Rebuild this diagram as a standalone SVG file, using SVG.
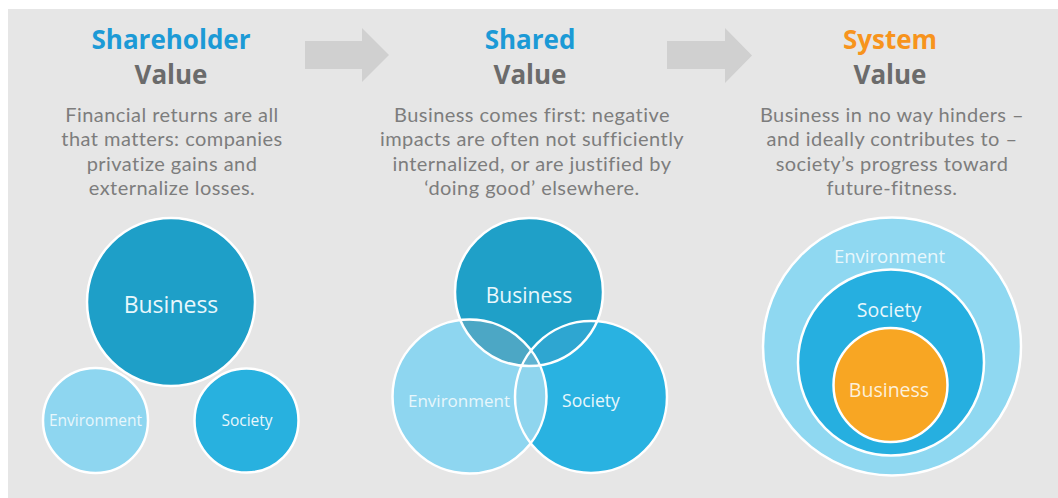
<svg xmlns="http://www.w3.org/2000/svg" width="1058" height="498" viewBox="0 0 1058 498">
<style>
text{font-family:"Open Sans","Liberation Sans",sans-serif;text-anchor:middle}
.t{font-size:26px;font-weight:bold}
.blue{fill:#1c9ad6}
.orange{fill:#f7941d}
.gray{fill:#6b6b6b}
.body{font-family:Lato,"Open Sans",sans-serif;font-size:20px;fill:#7d7d7d;letter-spacing:0.45px}
.lbl{fill:#e8f7fc}
.ring{fill:none;stroke:#ffffff;stroke-width:2.5}
.arrow{fill:#d0d0d0}
</style>
<defs>
<clipPath id="cB2"><circle cx="529" cy="292" r="74"/></clipPath>
<clipPath id="cE2"><circle cx="469.5" cy="396.5" r="77"/></clipPath>
<clipPath id="cS2"><circle cx="591" cy="397" r="76"/></clipPath>
</defs>
<rect x="0" y="0" width="1058" height="498" fill="#ffffff"/>
<rect x="8" y="9" width="1050" height="489" fill="#e6e6e6"/>

<g id="connectors">
<polygon class="arrow" points="305,41 362,41 362,28 389,55 362,82 362,69 305,69"/>
<polygon class="arrow" points="667,41 725,41 725,28 752,55.5 725,83 725,69 667,69"/>
</g>

<g id="col-shareholder">
<text class="t blue" x="171" y="49">Shareholder</text>
<text class="t gray" x="171" y="84">Value</text>
<text class="body" x="172" y="121.5">Financial returns are all</text>
<text class="body" x="172" y="146">that matters: companies</text>
<text class="body" x="172" y="170.5">privatize gains and</text>
<text class="body" x="172" y="195">externalize losses.</text>
</g>

<g id="col-shared">
<text class="t blue" x="530" y="49">Shared</text>
<text class="t gray" x="530" y="84">Value</text>
<text class="body" x="532" y="121.5">Business comes first: negative</text>
<text class="body" x="532" y="146">impacts are often not sufficiently</text>
<text class="body" x="532" y="170.5">internalized, or are justified by</text>
<text class="body" x="532" y="195">‘doing good’ elsewhere.</text>
</g>

<g id="col-system">
<text class="t orange" x="890" y="49">System</text>
<text class="t gray" x="890" y="84">Value</text>
<text class="body" x="892" y="121.5">Business in no way hinders –</text>
<text class="body" x="892" y="146">and ideally contributes to –</text>
<text class="body" x="892" y="170.5">society’s progress toward</text>
<text class="body" x="892" y="195">future-fitness.</text>
</g>

<g id="p1-business">
<circle cx="171" cy="302" r="84" fill="#1e9fc8" stroke="#ffffff" stroke-width="2.5"/>
<text class="lbl" x="171" y="313" font-size="23">Business</text>
</g>
<g id="p1-environment">
<circle cx="95.5" cy="420.5" r="52.5" fill="#8ed6f0" stroke="#ffffff" stroke-width="2.5"/>
<text class="lbl" x="95.5" y="426" font-size="15.5">Environment</text>
</g>
<g id="p1-society">
<circle cx="246.5" cy="420.5" r="52" fill="#28b1df" stroke="#ffffff" stroke-width="2.5"/>
<text class="lbl" x="247" y="426" font-size="15.5">Society</text>
</g>

<g id="p2-venn">
<g id="p2-environment-fill"><circle cx="469.5" cy="396.5" r="77" fill="#8ed6f0"/></g>
<g id="p2-society-fill"><circle cx="591" cy="397" r="76" fill="#29b2e1"/></g>
<g id="p2-business-fill"><circle cx="529" cy="292" r="74" fill="#1fa0c8"/></g>
<g clip-path="url(#cE2)"><circle cx="591" cy="397" r="76" fill="#8fd5ee"/></g>
<g clip-path="url(#cB2)">
<circle cx="469.5" cy="396.5" r="77" fill="#4ca7c5"/>
<circle cx="591" cy="397" r="76" fill="#2ea6d1"/>
<g clip-path="url(#cE2)"><circle cx="591" cy="397" r="76" fill="#5fb3d2"/></g>
</g>
<circle class="ring" cx="469.5" cy="396.5" r="77"/>
<circle class="ring" cx="591" cy="397" r="76"/>
<circle class="ring" cx="529" cy="292" r="74"/>
</g>
<g id="p2-business"><text class="lbl" x="529" y="303" font-size="21">Business</text></g>
<g id="p2-environment"><text class="lbl" x="459" y="407" font-size="17">Environment</text></g>
<g id="p2-society"><text class="lbl" x="591" y="407" font-size="17.5">Society</text></g>

<g id="p3-environment">
<circle cx="892" cy="346.5" r="129" fill="#8fd8f1" stroke="#ffffff" stroke-width="2.5"/>
<text class="lbl" x="889.5" y="263" font-size="18.5">Environment</text>
</g>
<g id="p3-society">
<circle cx="891" cy="362.5" r="93" fill="#26afe0" stroke="#ffffff" stroke-width="2.5"/>
<text class="lbl" x="889" y="317" font-size="19.5">Society</text>
</g>
<g id="p3-business">
<circle cx="890.5" cy="385" r="57" fill="#f8a623" stroke="#ffffff" stroke-width="2.5"/>
<text x="889" y="397" font-size="19.5" fill="#fdf0da">Business</text>
</g>
</svg>
